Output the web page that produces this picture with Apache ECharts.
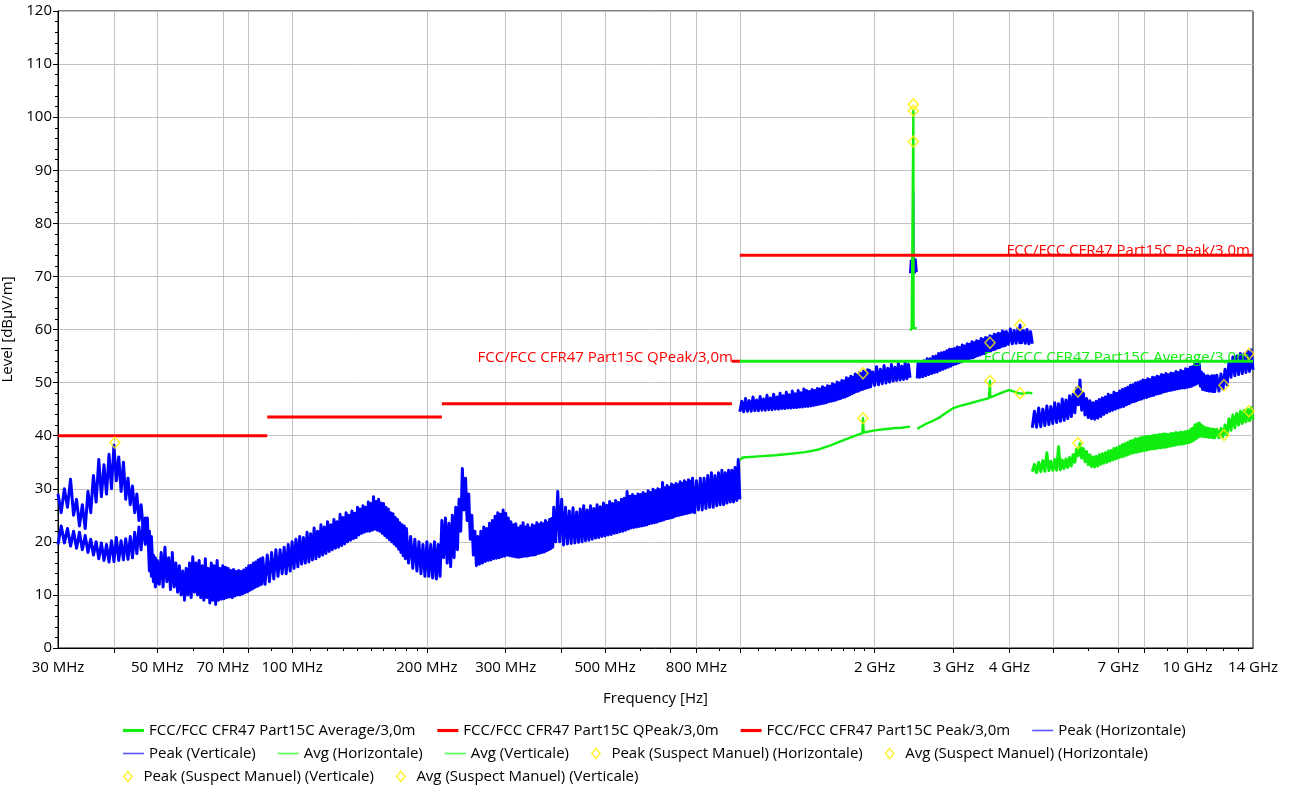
<!DOCTYPE html>
<html>
<head>
<meta charset="utf-8">
<script src="https://cdn.jsdelivr.net/npm/echarts@6/dist/echarts.min.js"></script>
<style>
  html, body { margin: 0; padding: 0; background: #ffffff; }
  #chart { width: 1289px; height: 790px; }
</style>
</head>
<body>
<div id="chart"></div>
<script>
// Frequencies in MHz, levels in dBµV/m.

// ---- axis ticks ----
const xLabelValues = [30, 50, 70, 100, 200, 300, 500, 800, 2000, 3000, 4000, 7000, 10000, 14000];
const xGridValues = [40, 50, 70, 80, 100, 200, 300, 400, 500, 700, 800, 1000, 2000, 3000, 4000, 5000, 7000, 8000, 10000];
const xMinorValues = [60, 90, 110, 120, 130, 140, 150, 160, 170, 180, 190, 600, 900,
  1100, 1200, 1300, 1400, 1500, 1600, 1700, 1800, 1900, 6000, 9000, 11000, 12000, 13000];

// ---- limit lines ----
const limitQPeak = [[30, 40], [88, 40], [88, null], [88, 43.5], [216, 43.5], [216, null],
  [216, 46], [960, 46], [960, null], [960, 54], [1000, 54]];
const limitPeak = [[1000, 74], [14000, 74]];
const limitAverage = [[1000, 54], [14000, 54]];

// ---- Peak (Horizontale) ----
const peakH_30M_1G = [
  [30, 29], [30.5, 25.5], [31, 30], [31.5, 26.5], [32, 31.8], [32.5, 25], [33, 28], [33.5, 23], [34, 27], [34.5, 22.5],
  [35, 29.5], [35.5, 25.5], [36, 32.5], [36.5, 27.5], [37, 35.5], [37.5, 28.5], [38, 34.5], [38.5, 29], [39, 36.5], [39.5, 30],
  [40, 38.2], [40.5, 31.5], [41, 36], [41.5, 29.5], [42, 35], [42.5, 28], [43, 32], [43.5, 27], [44, 30.5], [44.5, 25.5],
  [45, 29], [45.5, 24], [46, 27], [46.5, 22.5], [47, 24.5], [47.5, 20], [48, 22], [48.5, 13.5], [49, 17.5], [49.5, 11.5],
  [50, 16.5], [50.5, 12], [51, 18], [51.5, 11.5], [52, 19], [52.5, 12.5], [53, 17], [53.5, 11], [54, 18], [54.5, 11.5],
  [55, 16], [55.5, 10.5], [56, 15.5], [56.5, 10], [57, 14.5], [57.5, 9], [58, 15], [58.5, 10], [59, 16], [59.5, 9.5],
  [60, 17.2], [60.5, 10.5], [61, 16], [61.5, 10], [62, 16.5], [62.5, 9.5], [63, 15.5], [63.5, 9], [64, 16.8], [64.5, 9.5],
  [65, 15], [65.5, 8.5], [66, 16], [66.5, 9], [67, 15.5], [67.5, 8.2], [68, 16.5], [68.5, 9], [69, 15], [69.5, 9.2],
  [70, 15.5], [70.5, 9.3], [71, 15.2], [71.5, 9.5], [72, 15], [72.5, 9.6], [73, 14.6], [73.5, 9.5], [74, 14.8], [74.5, 9.8],
  [75, 14.4], [75.5, 10], [76, 14.6], [76.5, 10], [77, 14.4], [77.5, 10.2], [78, 14.7], [78.5, 10.4], [79, 15], [79.5, 10.6],
  [80, 15.5], [80.5, 10.9], [81, 15.6], [81.5, 11.1], [82, 16], [82.5, 11.4], [83, 16.2], [83.5, 11.6], [84, 16.6], [84.5, 11.8],
  [85, 16.8], [85.5, 12], [86, 17], [87, 12], [88, 17.5], [89, 12.5], [90, 18], [91, 13], [92, 18.5], [93, 13.5],
  [94, 18.5], [95, 14], [96, 19], [97, 14], [98, 19.5], [99, 14.5],
  [100, 20], [101, 15], [102, 20.5], [103, 15.3], [104, 21], [105, 15.8], [106, 20.8], [107, 16], [108, 21.8], [109, 16.2],
  [110, 21.5], [111, 16.6], [112, 22.6], [113, 16.8], [114, 22], [115, 17.2], [116, 23.2], [117, 17.5], [118, 22.8], [119, 17.8],
  [120, 23.8], [121, 18.2], [122, 23.2], [123, 18.5], [124, 24.2], [125, 18.8], [126, 23.8], [127, 19], [128, 25.2], [129, 19.3],
  [130, 24.6], [131, 19.6], [132, 25.5], [133, 20], [134, 25], [135, 20.3], [136, 25.8], [137, 20.6], [138, 25.4], [139, 20.8],
  [140, 26.5], [141, 21.3], [142, 26.2], [143, 21.6], [144, 26.8], [145, 21.8], [146, 26.5], [147, 22], [148, 27.5], [149, 22],
  [150, 27.2], [151, 22.2], [152, 28.5], [153, 22.4], [154, 27.6], [155, 22.2], [156, 28], [157, 22], [158, 27.3], [159, 21.6],
  [160, 27.2], [161, 21.2], [162, 26.5], [163, 20.8], [164, 26.2], [165, 20.4], [166, 25.5], [167, 20], [168, 25.3], [169, 19.6],
  [170, 24.6], [171, 19.2], [172, 24.2], [173, 18.6], [174, 23.6], [175, 18], [176, 23.2], [177, 17.4], [178, 23], [179, 16.8],
  [180, 22.5], [182, 16], [184, 21], [186, 15], [188, 20.5], [190, 14.5], [192, 20], [194, 14], [196, 19.5], [198, 13.5],
  [200, 20], [202, 13.5], [204, 19.5], [206, 13.2], [208, 20], [210, 13], [212, 19.5], [214, 13.5], [216, 24], [218, 17],
  [220, 24.5], [222, 16], [224, 23.5], [226, 15.3], [228, 25], [230, 17], [232, 26.5], [234, 18.5], [236, 28], [238, 22],
  [240, 33.8], [242, 26], [244, 32], [246, 24], [248, 29], [250, 20.5], [252, 25], [254, 17.5], [256, 22], [258, 15.5],
  [260, 21], [262, 15.8], [264, 22], [266, 16], [268, 22.8], [270, 16.3], [272, 22.5], [274, 16.5], [276, 23.5], [278, 16.6],
  [280, 24], [282, 16.8], [284, 24.8], [286, 16.9], [288, 25.5], [290, 17], [292, 25.2], [294, 17.2], [296, 26], [298, 17.3],
  [300, 25.4], [302, 17.5], [304, 24.5], [306, 17.4], [308, 23.8], [310, 17.3], [312, 23.2], [314, 17.2], [316, 23.4], [318, 17.1],
  [320, 22.6], [322, 17.1], [324, 23], [326, 17.2], [328, 23.6], [330, 17.3], [332, 22.8], [334, 17.3], [336, 23.2], [338, 17.4],
  [340, 22.6], [342, 17.5], [344, 23.2], [346, 17.5], [348, 23], [350, 17.6], [352, 23.6], [354, 17.8], [356, 23.2], [358, 17.9],
  [360, 23.6], [362, 18], [364, 23.4], [366, 18.1], [368, 24], [370, 18.3], [372, 23.6], [374, 18.5], [376, 24.2], [378, 18.7],
  [380, 24.4], [382, 19], [384, 26.5], [388, 20], [392, 29.5], [396, 20],
  [400, 28], [404, 19.4], [408, 26.5], [412, 19.6], [416, 25.8], [420, 19.7], [424, 26.4], [428, 19.8], [432, 25.6], [436, 19.9],
  [440, 26.2], [444, 20], [448, 26.8], [452, 20.2], [456, 26], [460, 20.3], [464, 26.8], [468, 20.5], [472, 26.3], [476, 20.7],
  [480, 27], [484, 20.8], [488, 26.6], [492, 21], [496, 27.3], [500, 21.1], [504, 26.9], [508, 21.3], [512, 27.6], [516, 21.4],
  [520, 27.2], [524, 21.6], [528, 27.8], [532, 21.7], [536, 27.4], [540, 21.9], [544, 28], [548, 22], [552, 28.2], [556, 22.2],
  [560, 29.5], [564, 22.4], [568, 28.6], [572, 22.6], [576, 28.9], [580, 22.7], [584, 28.6], [588, 22.8], [592, 29], [596, 22.9],
  [600, 28.9], [604, 23], [608, 29.3], [612, 23.1], [616, 29], [620, 23.2], [624, 29.6], [628, 23.4], [632, 29.3], [636, 23.5],
  [640, 29.9], [644, 23.6], [648, 29.6], [652, 23.7], [656, 30], [660, 23.9], [664, 29.8], [668, 24], [672, 31.2], [676, 24.1],
  [680, 30.2], [684, 24.3], [688, 30.6], [692, 24.4], [696, 30.3], [700, 24.5], [704, 30.9], [708, 24.6], [712, 30.6], [716, 24.8],
  [720, 31], [724, 24.9], [728, 30.8], [732, 25], [736, 31.3], [740, 25.1], [744, 31], [748, 25.2], [752, 31.5], [756, 25.3],
  [760, 31.2], [764, 25.4], [768, 31.7], [772, 25.5], [776, 31.4], [780, 25.6],
  [784, 32], [792, 25.5], [800, 31.5], [808, 26], [816, 32], [824, 26], [832, 32], [840, 26.3], [848, 32.5], [856, 26.5],
  [864, 33], [872, 26.5], [880, 32.5], [888, 26.8], [896, 33], [904, 27], [912, 33.5], [920, 27], [928, 33], [936, 27.3],
  [944, 33.5], [952, 27.5], [960, 33.5], [968, 27.5], [976, 34], [984, 27.8], [992, 35.5], [1000, 28]
];
const peakH_1G_2G4 = [
  [1000, 44.5], [1010, 46.5], [1020, 44.5], [1030, 47], [1040, 44.6], [1050, 46.6], [1060, 44.6], [1070, 47.3], [1080, 44.7], [1090, 46.7],
  [1100, 44.7], [1110, 47.4], [1120, 44.8], [1130, 46.9], [1140, 44.8], [1150, 47.6], [1160, 44.9], [1170, 47.1], [1180, 44.9], [1190, 47.8],
  [1200, 45], [1210, 47.3], [1220, 45], [1230, 48], [1240, 45.1], [1250, 47.5], [1260, 45.1], [1270, 48.2], [1280, 45.2], [1290, 47.7],
  [1300, 45.2], [1310, 48.4], [1320, 45.3], [1330, 47.9], [1340, 45.3], [1350, 48.5], [1360, 45.4], [1370, 48.1], [1380, 45.4], [1390, 48.8],
  [1400, 45.5], [1410, 48.5], [1420, 45.5], [1430, 48.3], [1440, 45.6], [1450, 48.7], [1460, 45.7], [1470, 48.5], [1480, 45.8], [1490, 48.9],
  [1500, 45.9], [1510, 48.8], [1520, 46], [1530, 49.2], [1540, 46.1], [1550, 49], [1560, 46.2], [1570, 49.4], [1580, 46.4], [1590, 49.3],
  [1600, 46.5], [1610, 49.8], [1620, 46.6], [1630, 49.6], [1640, 46.7], [1650, 50.1], [1660, 46.9], [1670, 49.9], [1680, 47], [1690, 50.4],
  [1700, 47.2], [1710, 50.3], [1720, 47.3], [1730, 50.9], [1740, 47.5], [1750, 50.7], [1760, 47.7], [1770, 51.2], [1780, 47.9], [1790, 51],
  [1800, 48.1], [1810, 51.6], [1820, 48.3], [1830, 51.4], [1840, 48.4], [1850, 51.9], [1860, 48.6], [1870, 51.7], [1880, 48.7], [1890, 52.2],
  [1900, 48.9], [1910, 52], [1920, 49], [1930, 52.4], [1940, 49.1], [1950, 52.3], [1960, 49.2], [1980, 52],
  [2000, 49.5], [2020, 53], [2040, 49.6], [2060, 52.5], [2080, 49.8], [2100, 53.2], [2120, 49.9], [2140, 52.7], [2160, 50.1], [2180, 53.4],
  [2200, 50.3], [2220, 52.9], [2240, 50.4], [2260, 53.6], [2280, 50.5], [2300, 53.1], [2320, 50.6], [2340, 53.8], [2360, 50.7], [2380, 53.4],
  [2400, 50.9]
];
const peakH_2G5_4G5 = [
  [2490, 50.8], [2500, 53.6], [2520, 51], [2540, 53.9], [2560, 51.1], [2580, 54.1], [2600, 51.3], [2620, 54.5], [2640, 51.5], [2660, 54.5],
  [2680, 51.7], [2700, 54.9], [2720, 51.9], [2740, 55], [2760, 52], [2780, 55.5], [2800, 52.3], [2820, 55.6], [2840, 52.5], [2860, 55.7],
  [2880, 52.7], [2900, 56], [2920, 52.9], [2940, 56.3], [2960, 53.1], [2980, 56.3], [3000, 53.4], [3020, 56.4], [3040, 53.5], [3060, 56.7],
  [3080, 53.7], [3100, 56.6], [3120, 53.9], [3140, 57.1], [3160, 54.1], [3180, 56.9], [3200, 54.3], [3220, 57.3], [3240, 54.4], [3260, 57.2],
  [3280, 54.6], [3300, 57.7], [3320, 54.7], [3340, 57.5], [3360, 54.9], [3380, 57.9], [3400, 55.1], [3420, 57.8], [3440, 55.2], [3460, 58.3],
  [3480, 55.4], [3500, 58.1], [3520, 55.5], [3540, 58.5], [3560, 55.7], [3580, 58.4], [3600, 55.9], [3620, 58.8], [3640, 56], [3660, 58.7],
  [3680, 56.2], [3700, 59.1], [3720, 56.3], [3740, 59], [3760, 56.5], [3780, 59.3], [3800, 56.6], [3820, 59.2], [3840, 56.8], [3860, 59.7],
  [3880, 56.9], [3900, 59.5], [3920, 57], [3940, 59.6], [3980, 57.2], [4020, 60.1], [4060, 57.3], [4100, 59.8], [4140, 57.4], [4180, 60.2],
  [4220, 57.5], [4224, 60.8], [4260, 57.5], [4300, 59.8], [4340, 57.4], [4380, 60], [4420, 57.3], [4460, 59.6], [4500, 57.3]
];

// ---- Peak (Verticale) ----
const peakV_30M_50M = [
  [30, 19.5], [30.5, 23], [31, 19.8], [31.5, 22.5], [32, 19.2], [32.5, 22], [33, 18.8], [33.5, 21.8], [34, 18.5], [34.5, 21.2],
  [35, 18], [35.5, 20.5], [36, 17.5], [36.5, 20], [37, 16.8], [37.5, 19.8], [38, 16.5], [38.5, 19.5], [39, 16.2], [39.5, 20.2],
  [40, 16.3], [40.5, 20.8], [41, 16.5], [41.5, 20.2], [42, 16.6], [42.5, 20.6], [43, 16.7], [43.5, 21], [44, 17], [44.5, 21.8],
  [45, 17.8], [45.5, 22.8], [46, 18.5], [46.5, 24], [47, 19.5], [47.5, 24.5], [48, 14.5], [48.5, 21], [49, 12.5], [49.5, 17],
  [50, 12]
];
const peakV_2G4_band = [
  [2400, 70.6], [2410, 73], [2420, 70.8], [2430, 73.2], [2438, 71], [2441, 86], [2444, 71.2], [2450, 73.4], [2460, 70.7], [2470, 73.2],
  [2483.5, 70.8]
];
const peakV_4G5_14G = [
  [4500, 41.5], [4550, 44.6], [4600, 41.6], [4650, 45.2], [4700, 41.7], [4750, 45], [4800, 41.9], [4850, 45.6], [4900, 42.1], [4950, 45.5],
  [5000, 42.3], [5050, 46.2], [5100, 42.5], [5150, 46], [5200, 42.7], [5250, 46.9], [5300, 42.9], [5350, 46.7], [5400, 43.2], [5450, 47.5],
  [5500, 43.6], [5550, 47.8], [5600, 44.3], [5650, 49], [5700, 45.8], [5750, 50.5], [5800, 44.8], [5850, 48], [5900, 43.9], [5950, 47],
  [6000, 43.4], [6050, 46.6], [6100, 43.2], [6150, 46.2], [6200, 43.1], [6250, 46.5], [6300, 43.3], [6350, 46.8], [6400, 43.6], [6450, 47.1],
  [6500, 44], [6550, 47.3], [6600, 44.3], [6650, 47.8], [6700, 44.6], [6750, 47.6], [6800, 44.8], [6850, 48.2], [6900, 45], [6950, 48],
  [7000, 45.2], [7050, 48.4], [7100, 45.4], [7150, 48.7], [7200, 45.5], [7250, 48.9], [7300, 45.8], [7350, 49.1], [7400, 46], [7450, 49.5],
  [7500, 46.3], [7550, 49.6], [7600, 46.4], [7650, 49.9], [7700, 46.6], [7750, 50], [7800, 46.8], [7850, 50.2], [7900, 46.9], [7950, 50.5],
  [8000, 47.1], [8050, 50.4], [8100, 47.2], [8150, 50.7], [8200, 47.4], [8250, 50.6], [8300, 47.5], [8350, 51], [8400, 47.6], [8450, 50.9],
  [8500, 47.8], [8550, 51.2], [8600, 47.9], [8650, 51.1], [8700, 48], [8750, 51.5], [8800, 48.2], [8850, 51.4], [8900, 48.3], [8950, 51.7],
  [9000, 48.4], [9060, 51.5], [9120, 48.5], [9180, 51.8], [9240, 48.6], [9300, 51.7], [9360, 48.7], [9420, 52.1], [9480, 48.8], [9540, 51.9],
  [9600, 48.9], [9660, 52.3], [9720, 49], [9780, 52.1], [9840, 49], [9900, 52.6], [9960, 49.1], [10020, 52.5], [10080, 49.2], [10140, 52.9],
  [10200, 49.3], [10260, 53], [10320, 49.5], [10380, 53.5], [10440, 49.7], [10500, 53.4], [10560, 49.9], [10620, 53.8], [10680, 49.3], [10740, 52],
  [10800, 48.7], [10860, 51.6], [10920, 48.6], [10980, 51.2], [11040, 48.5], [11100, 51.3], [11160, 48.4], [11220, 51.1], [11280, 48.4], [11340, 51.3],
  [11400, 48.3], [11460, 51.3], [11500, 48.3], [11625, 51.4], [11750, 48.4], [11875, 51.6], [12000, 48.8], [12125, 52.5], [12250, 49.6], [12375, 54],
  [12500, 51], [12625, 54.8], [12750, 51.3], [12875, 55], [13000, 51.5], [13125, 55.5], [13250, 51.7], [13375, 55.4], [13500, 51.9], [13625, 55.9],
  [13750, 52.1], [13875, 56.2], [14000, 52.4]
];

// ---- Avg (Horizontale) ----
const avgH_1G_2G4 = [
  [1000, 35.4], [1015, 35.9], [1100, 36.1], [1200, 36.3], [1300, 36.6], [1400, 36.9], [1500, 37.4], [1600, 38.2], [1700, 39.1], [1800, 39.9],
  [1878, 40.5], [1884, 43.3], [1890, 40.6], [1900, 40.7], [2000, 41], [2100, 41.2], [2200, 41.4], [2300, 41.5], [2400, 41.7]
];
const avgH_2G5_4G5 = [
  [2490, 41.3], [2500, 41.6], [2600, 42.2], [2700, 42.8], [2800, 43.5], [2900, 44.4], [3000, 45.2], [3100, 45.6], [3200, 45.9], [3300, 46.2],
  [3400, 46.5], [3500, 46.8], [3600, 47.1], [3615, 47.2], [3620, 50.3], [3625, 47.2], [3700, 47.5], [3800, 47.9], [3900, 48.3], [4000, 48.6],
  [4100, 48.3], [4200, 48], [4300, 47.9], [4400, 48.1], [4500, 48]
];

// ---- Avg (Verticale) ----
const avgV_2G4_band = [
  [2400, 59.8], [2420, 60.2], [2438, 60.5], [2441, 101.3], [2444, 60.3], [2460, 60], [2483.5, 60.2]
];
const avgV_4G5_14G = [
  [4500, 33.2], [4550, 34.6], [4600, 33], [4650, 35], [4700, 33.2], [4750, 35.3], [4800, 33.3], [4850, 36.8], [4900, 33.4], [4950, 35.2],
  [5000, 33.5], [5050, 35.5], [5100, 33.5], [5150, 37.9], [5200, 33.6], [5250, 35.4], [5300, 33.8], [5350, 35.6], [5400, 34], [5450, 35.9],
  [5500, 34.3], [5550, 36.4], [5600, 35], [5650, 37.5], [5700, 36.2], [5750, 38.5], [5800, 35.8], [5850, 37.6], [5900, 35.1], [5950, 37],
  [6000, 34.5], [6050, 36.4], [6100, 34.2], [6150, 36], [6200, 34.1], [6250, 36.1], [6300, 34.3], [6350, 36.4], [6400, 34.6], [6450, 36.6],
  [6500, 34.8], [6550, 36.8], [6600, 35], [6650, 37.1], [6700, 35.2], [6750, 37.2], [6800, 35.4], [6850, 37.6], [6900, 35.6], [6950, 37.7],
  [7000, 35.8], [7050, 38], [7100, 36], [7150, 38.3], [7200, 36.1], [7250, 38.5], [7300, 36.3], [7350, 38.7], [7400, 36.5], [7450, 39],
  [7500, 36.7], [7550, 39.1], [7600, 36.8], [7650, 39.4], [7700, 36.9], [7750, 39.4], [7800, 37], [7850, 39.6], [7900, 37.1], [7950, 39.7],
  [8000, 37.2], [8050, 39.8], [8100, 37.3], [8150, 39.9], [8200, 37.4], [8250, 39.9], [8300, 37.5], [8350, 40], [8400, 37.5], [8450, 40.1],
  [8500, 37.6], [8550, 40.1], [8600, 37.7], [8650, 40.2], [8700, 37.7], [8750, 40.2], [8800, 37.8], [8850, 40.3], [8900, 37.8], [8950, 40.3],
  [9000, 37.9], [9060, 40.2], [9120, 38], [9180, 40.4], [9240, 38.1], [9300, 40.4], [9360, 38.2], [9420, 40.6], [9480, 38.3], [9540, 40.5],
  [9600, 38.4], [9660, 40.7], [9720, 38.4], [9780, 40.6], [9840, 38.5], [9900, 40.8], [9960, 38.6], [10020, 40.8], [10080, 38.7], [10140, 41.1],
  [10200, 38.9], [10260, 41.4], [10320, 39.1], [10380, 42], [10440, 39.4], [10500, 42.2], [10560, 39.7], [10620, 42.4], [10680, 39.9], [10740, 42],
  [10800, 39.9], [10860, 41.7], [10920, 39.8], [10980, 41.5], [11040, 39.8], [11100, 41.4], [11160, 39.7], [11220, 41.3], [11280, 39.7], [11340, 41.2],
  [11400, 39.6], [11460, 41.2], [11500, 39.6], [11625, 41.2], [11750, 39.6], [11875, 41.4], [12000, 39.8], [12125, 42], [12250, 40.2], [12375, 43.2],
  [12500, 41], [12625, 43.9], [12750, 41.5], [12875, 44.2], [13000, 42], [13125, 44.6], [13250, 42.3], [13375, 44.8], [13500, 42.6], [13625, 45],
  [13750, 42.8], [13875, 45.3], [14000, 43]
];

// ---- manually flagged suspects ----
const suspectPeakH = [[40.2, 38.7], [1884, 51.75], [2441, 102.4], [3620, 57.5], [4224, 60.85]];
const suspectAvgH = [[1884, 43.3], [2441, 101.2], [3620, 50.3], [4224, 48.0]];
const suspectPeakV = [[5691, 48.3], [12060, 49.5], [13713, 55.4]];
const suspectAvgV = [[2441, 95.4], [5691, 38.6], [12060, 40.1], [13713, 44.6]];

// separate scan ranges with a gap so they are not joined
function joinRanges(...ranges) {
  const out = [];
  ranges.forEach((r, i) => {
    if (i > 0) out.push([r[0][0], null]);
    out.push(...r);
  });
  return out;
}

const FONT = 'Open Sans';
const FS = 15;
const BLUE = '#0000ff';
const GREEN = '#10ee10';
const RED = '#ff0000';
const YELLOW = '#ffee00';

const N_AVG = 'FCC/FCC CFR47 Part15C Average/3,0m';
const N_QP = 'FCC/FCC CFR47 Part15C QPeak/3,0m';
const N_PK = 'FCC/FCC CFR47 Part15C Peak/3,0m';
const N_PH = 'Peak (Horizontale)';
const N_PV = 'Peak (Verticale)';
const N_AH = 'Avg (Horizontale)';
const N_AV = 'Avg (Verticale)';
const N_SPH = 'Peak (Suspect Manuel) (Horizontale)';
const N_SAH = 'Avg (Suspect Manuel) (Horizontale)';
const N_SPV = 'Peak (Suspect Manuel) (Verticale)';
const N_SAV = 'Avg (Suspect Manuel) (Verticale)';

const ICON_THICK = 'path://M0,0h20v3h-20z';
const ICON_THIN = 'path://M0,0h20v1.6h-20z';
const ICON_DIAMOND = 'path://M5,0L10,6L5,12L0,6Z';

function lineItem(name, icon, color) {
  return { name, icon, itemStyle: { color, borderWidth: 0 } };
}
function diamondItem(name) {
  return { name, icon: ICON_DIAMOND, itemStyle: { color: 'rgba(0,0,0,0)', borderColor: YELLOW, borderWidth: 1.5 } };
}

const legendBase = {
  orient: 'horizontal', left: 123, padding: 0,
  itemWidth: 21, itemHeight: 10, itemGap: 22,
  selectedMode: false,
  textStyle: { fontFamily: FONT, fontSize: FS, color: '#000' }
};

// noisy sweeps are drawn with a wide stroke so the swept band reads as solid
function traceSeries(name, data, color, width, z) {
  return {
    name, type: 'line', data, xAxisIndex: 0, yAxisIndex: 0,
    symbol: 'none', connectNulls: false, z,
    lineStyle: { color, width, join: 'round' }, itemStyle: { color },
    emphasis: { disabled: true }
  };
}

function limitSeries(name, data, color, labelOffset) {
  return {
    name, type: 'line', data, symbol: 'none', connectNulls: false, z: 6,
    lineStyle: { color, width: 3 }, itemStyle: { color },
    emphasis: { disabled: true },
    endLabel: {
      show: true, formatter: (p) => p.seriesName,
      color, fontFamily: FONT, fontSize: FS,
      align: 'right', verticalAlign: 'middle', distance: 0, offset: labelOffset
    }
  };
}

function suspectSeries(name, data) {
  return {
    name, type: 'scatter', data, symbol: 'diamond', symbolSize: [10, 11], z: 8,
    itemStyle: { color: 'rgba(0,0,0,0)', borderColor: YELLOW, borderWidth: 1.6 },
    emphasis: { disabled: true }
  };
}

const chart = echarts.init(document.getElementById('chart'), null, { renderer: 'canvas' });

chart.setOption({
  animation: false,
  backgroundColor: '#ffffff',
  textStyle: { fontFamily: FONT },
  grid: {
    left: 58, right: 36, top: 11, bottom: 142,
    show: true, borderColor: '#000', borderWidth: 1, backgroundColor: '#ffffff',
    containLabel: false, outerBoundsMode: 'none'
  },
  xAxis: [
    {
      type: 'log', logBase: 10, min: 30, max: 14000,
      name: 'Frequency [Hz]', nameLocation: 'middle', nameGap: 43,
      nameTextStyle: { fontFamily: FONT, fontSize: FS, color: '#000' },
      axisLine: { show: true, lineStyle: { color: '#000', width: 1 } },
      axisTick: { show: true, customValues: xGridValues, length: 5, lineStyle: { color: '#000' } },
      axisLabel: {
        show: true, customValues: xLabelValues, margin: 12,
        fontFamily: FONT, fontSize: FS, color: '#000',
        formatter: (v) => v >= 1000 ? (Math.round(v / 100) / 10) + ' GHz' : Math.round(v) + ' MHz'
      },
      splitLine: { show: true, lineStyle: { color: '#c2c2c2', width: 1 } }
    },
    {
      type: 'log', logBase: 10, min: 30, max: 14000, position: 'bottom',
      axisLine: { show: false },
      axisTick: { show: true, customValues: xMinorValues, length: 3, lineStyle: { color: '#000' } },
      axisLabel: { show: false },
      splitLine: { show: false }
    }
  ],
  yAxis: {
    type: 'value', min: 0, max: 120, interval: 10,
    name: 'Level [dBµV/m]', nameLocation: 'middle', nameGap: 29, nameRotate: 90,
    nameTextStyle: { fontFamily: FONT, fontSize: FS, color: '#000' },
    axisLine: { show: true, lineStyle: { color: '#000', width: 1 } },
    axisTick: { show: true, length: 5, lineStyle: { color: '#000' } },
    minorTick: { show: true, splitNumber: 5, length: 3, lineStyle: { color: '#000' } },
    axisLabel: { margin: 6, fontFamily: FONT, fontSize: FS, color: '#000' },
    splitLine: { show: true, lineStyle: { color: '#c2c2c2', width: 1 } }
  },
  legend: [
    Object.assign({}, legendBase, {
      top: 723,
      data: [
        lineItem(N_AVG, ICON_THICK, GREEN),
        lineItem(N_QP, ICON_THICK, RED),
        lineItem(N_PK, ICON_THICK, RED),
        lineItem(N_PH, ICON_THIN, '#5c5cff')
      ]
    }),
    Object.assign({}, legendBase, {
      top: 746,
      data: [
        lineItem(N_PV, ICON_THIN, '#5c5cff'),
        lineItem(N_AH, ICON_THIN, '#5cff5c'),
        lineItem(N_AV, ICON_THIN, '#5cff5c'),
        diamondItem(N_SPH),
        diamondItem(N_SAH)
      ]
    }),
    Object.assign({}, legendBase, {
      top: 769,
      data: [diamondItem(N_SPV), diamondItem(N_SAV)]
    })
  ],
  series: [
    traceSeries(N_PH, joinRanges(peakH_30M_1G, peakH_1G_2G4, peakH_2G5_4G5), BLUE, 3, 2),
    traceSeries(N_PV, joinRanges(peakV_30M_50M, peakV_4G5_14G), BLUE, 3, 2),
    traceSeries(N_PV, peakV_2G4_band, BLUE, 2.2, 2),
    traceSeries(N_AH, joinRanges(avgH_1G_2G4, avgH_2G5_4G5), GREEN, 2.4, 3),
    traceSeries(N_AV, avgV_2G4_band, GREEN, 2.4, 3),
    traceSeries(N_AV, avgV_4G5_14G, GREEN, 3, 3),
    limitSeries(N_AVG, limitAverage, GREEN, [-3, -4]),
    limitSeries(N_QP, limitQPeak, RED, [-7, -4]),
    limitSeries(N_PK, limitPeak, RED, [-3, -4]),
    suspectSeries(N_SPH, suspectPeakH),
    suspectSeries(N_SAH, suspectAvgH),
    suspectSeries(N_SPV, suspectPeakV),
    suspectSeries(N_SAV, suspectAvgV)
  ]
});
</script>
</body>
</html>
